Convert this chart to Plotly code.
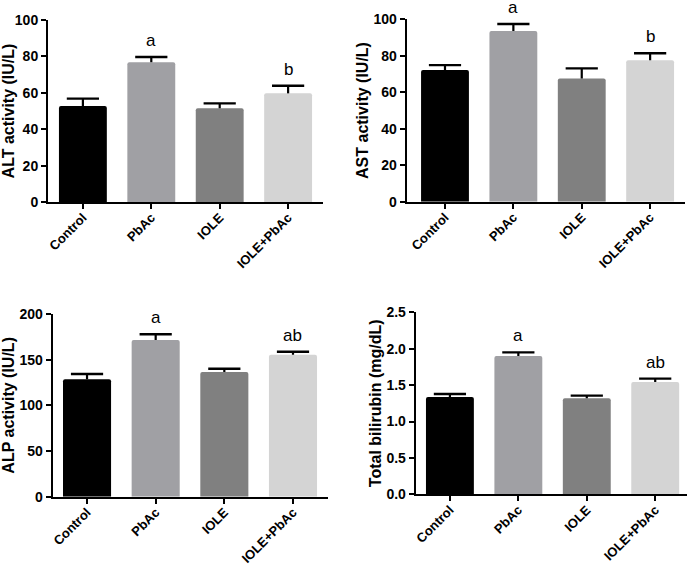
import plotly.graph_objects as go

categories = ["Control", "PbAc", "IOLE", "IOLE+PbAc"]
colors = ["#000000", "#a0a0a4", "#808080", "#d4d4d4"]

alt_mean = [52.7, 76.8, 51.5, 59.7]
alt_err = [4.1, 2.9, 2.7, 4.2]
alt_letters = ["", "a", "", "b"]

ast_mean = [72.2, 93.6, 67.6, 77.5]
ast_err = [2.7, 3.8, 5.5, 3.9]
ast_letters = ["", "a", "", "b"]

alp_mean = [128.5, 171.5, 136.5, 155.4]
alp_err = [5.8, 6.3, 3.6, 3.3]
alp_letters = ["", "a", "", "ab"]

bil_mean = [1.337, 1.90, 1.319, 1.543]
bil_err = [0.041, 0.05, 0.036, 0.046]
bil_letters = ["", "a", "", "ab"]

W, H = 693, 568

panels = [
    dict(mean=alt_mean, err=alt_err, letters=alt_letters, title="ALT activity (IU/L)",
         xpx=(48, 323), ypx=(20, 202), yrange=[0, 100], dtick=20, xr=[-0.51, 3.51], tickfmt=None),
    dict(mean=ast_mean, err=ast_err, letters=ast_letters, title="AST activity (IU/L)",
         xpx=(406.7, 685), ypx=(19.3, 201.7), yrange=[0, 100], dtick=20, xr=[-0.56, 3.51], tickfmt=None),
    dict(mean=alp_mean, err=alp_err, letters=alp_letters, title="ALP activity (IU/L)",
         xpx=(52.7, 328), ypx=(314, 496.7), yrange=[0, 200], dtick=50, xr=[-0.5, 3.51], tickfmt=None),
    dict(mean=bil_mean, err=bil_err, letters=bil_letters, title="Total bilirubin (mg/dL)",
         xpx=(415.7, 686.7), ypx=(312.3, 494.3), yrange=[0, 2.5], dtick=0.5, xr=[-0.5, 3.46], tickfmt=".1f"),
]

fig = go.Figure()
annotations = []
FONT = "Liberation Sans, Arial, sans-serif"

for i, p in enumerate(panels):
    n = "" if i == 0 else str(i + 1)
    xa = "x" + n
    ya = "y" + n
    fig.add_trace(go.Bar(
        x=categories, y=p["mean"], xaxis=xa, yaxis=ya,
        marker=dict(color=colors, line=dict(width=0), cornerradius=2),
        width=0.7,
        error_y=dict(type="data", symmetric=False, array=p["err"],
                     arrayminus=[0] * len(p["err"]), color="black",
                     thickness=2.2, width=0),
        showlegend=False, hoverinfo="skip",
    ))
    tops = [m + e for m, e in zip(p["mean"], p["err"])]
    fig.add_trace(go.Scatter(
        x=categories, y=tops, xaxis=xa, yaxis=ya, mode="markers",
        marker=dict(symbol="line-ew", size=23, color="black",
                    line=dict(width=2.4, color="black")),
        showlegend=False, hoverinfo="skip", cliponaxis=False,
    ))
    x0, x1 = p["xpx"]
    yt, yb = p["ypx"]
    axis_common = dict(showline=True, linecolor="black", linewidth=2, ticks="outside",
                       tickwidth=2, ticklen=5, tickcolor="black", showgrid=False,
                       zeroline=False, automargin=False)
    fig.layout["xaxis" + n] = dict(
        domain=[x0 / W, min(1, x1 / W)], range=p["xr"], anchor=ya,
        tickangle=-45, ticklabelstandoff=-4,
        tickfont=dict(family=FONT, size=13, color="black", weight="bold"),
        **axis_common)
    ydict = dict(
        domain=[1 - yb / H, 1 - yt / H], range=p["yrange"], anchor=xa,
        dtick=p["dtick"], tick0=0,
        tickfont=dict(family=FONT, size=14, color="black", weight="bold"),
        title=dict(text=p["title"], standoff=1,
                   font=dict(family=FONT, size=16, color="black", weight="bold")),
        **axis_common)
    if p["tickfmt"]:
        ydict["tickformat"] = p["tickfmt"]
    fig.layout["yaxis" + n] = ydict
    for c, t, L in zip(categories, tops, p["letters"]):
        if L:
            annotations.append(dict(x=c, y=t, xref=xa, yref=ya, text=L, showarrow=False,
                                    yanchor="bottom", yshift=6, borderpad=0,
                                    font=dict(family=FONT, size=17, color="black")))

fig.update_layout(
    width=W, height=H, margin=dict(l=0, r=0, t=0, b=0),
    paper_bgcolor="white", plot_bgcolor="white",
    annotations=annotations, bargap=0.3,
)

# remove the browser's default 8px body margin so the figure sits at the window origin
fig.write_html("out.html", config={"displayModeBar": False},
               post_script="document.body.style.margin='0';")
